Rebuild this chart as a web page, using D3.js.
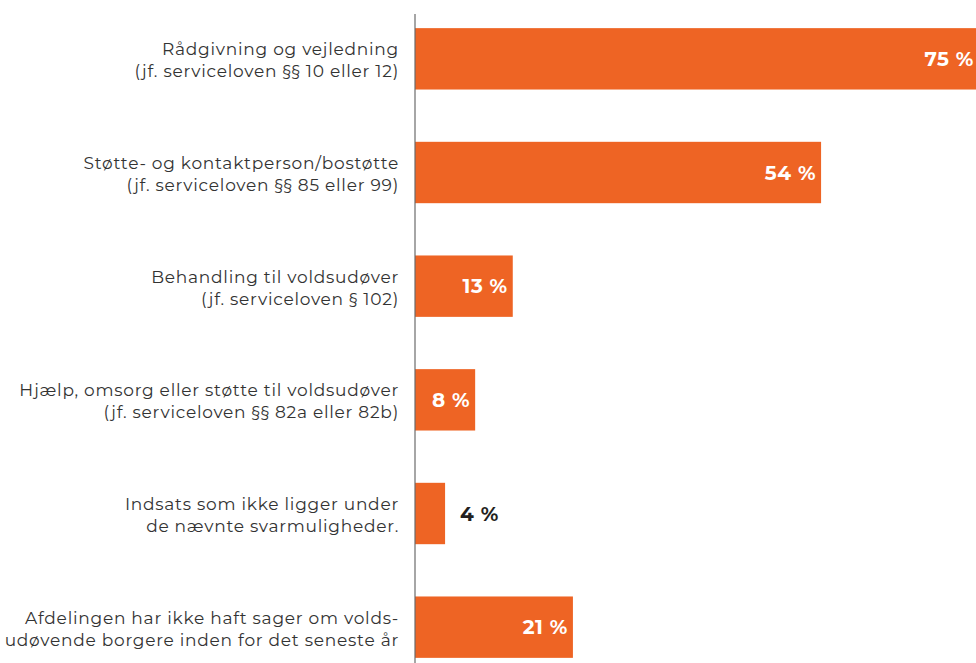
<!DOCTYPE html>
<html>
<head>
<meta charset="utf-8">
<script src="https://cdn.jsdelivr.net/npm/d3@7"></script>
<style>
  body { margin: 0; background: #fff; }
  svg { display: block; }
</style>
</head>
<body>
<div id="chart"></div>
<script>
// labels, two lines each
var categories = [
  ['Rådgivning og vejledning', '(jf. serviceloven §§ 10 eller 12)'],
  ['Støtte- og kontaktperson/bostøtte', '(jf. serviceloven §§ 85 eller 99)'],
  ['Behandling til voldsudøver', '(jf. serviceloven § 102)'],
  ['Hjælp, omsorg eller støtte til voldsudøver', '(jf. serviceloven §§ 82a eller 82b)'],
  ['Indsats som ikke ligger under', 'de nævnte svarmuligheder.'],
  ['Afdelingen har ikke haft sager om volds-', 'udøvende borgere inden for det seneste år']
];
var values = [75, 54, 13, 8, 4, 21];

var width = 976, height = 663;
var axisX = 415;

var svg = d3.select('#chart').append('svg')
  .attr('width', width)
  .attr('height', height);

var x = d3.scaleLinear().domain([0, 100]).range([axisX, axisX + 752]);

var y = d3.scaleBand()
  .domain(d3.range(values.length))
  .range([2, 684])
  .paddingInner(0.46)
  .paddingOuter(0.23);

// bars
svg.selectAll('.bar')
  .data(values)
  .enter().append('rect')
  .attr('class', 'bar')
  .attr('x', x(0))
  .attr('y', function (d, i) { return y(i); })
  .attr('width', function (d) { return x(d) - x(0); })
  .attr('height', y.bandwidth())
  .attr('fill', '#ee6424');

// axis line
svg.append('line')
  .attr('x1', axisX).attr('x2', axisX)
  .attr('y1', 14).attr('y2', height)
  .attr('stroke', '#6b6b6b')
  .attr('stroke-width', 1.2);

// category labels
var labels = svg.selectAll('.cat')
  .data(categories)
  .enter().append('text')
  .attr('class', 'cat')
  .attr('text-anchor', 'end')
  .attr('font-family', 'Montserrat, Noto Sans, sans-serif')
  .attr('font-size', 17)
  .attr('letter-spacing', 0.75)
  .attr('fill', '#333');

labels.selectAll('tspan')
  .data(function (d, i) { return d.map(function (t, j) { return { t: t, i: i, j: j }; }); })
  .enter().append('tspan')
  .attr('x', 399)
  .attr('y', function (d) { return y(d.i) + y.bandwidth() / 2 + (d.j === 0 ? -3.5 : 18.5); })
  .text(function (d) { return d.t; });

// value labels
svg.selectAll('.val')
  .data(values)
  .enter().append('text')
  .attr('class', 'val')
  .attr('font-family', 'Montserrat, Noto Sans, sans-serif')
  .attr('font-weight', 'bold')
  .attr('font-size', 20)
  .attr('letter-spacing', 0.6)
  .attr('y', function (d, i) { return y(i) + y.bandwidth() / 2 + 7; })
  .attr('x', function (d) { return d < 6 ? x(d) + 15 : x(d) - 5; })
  .attr('text-anchor', function (d) { return d < 6 ? 'start' : 'end'; })
  .attr('fill', function (d) { return d < 6 ? '#231f20' : '#fff'; })
  .text(function (d) { return d + ' %'; });
</script>
</body>
</html>
